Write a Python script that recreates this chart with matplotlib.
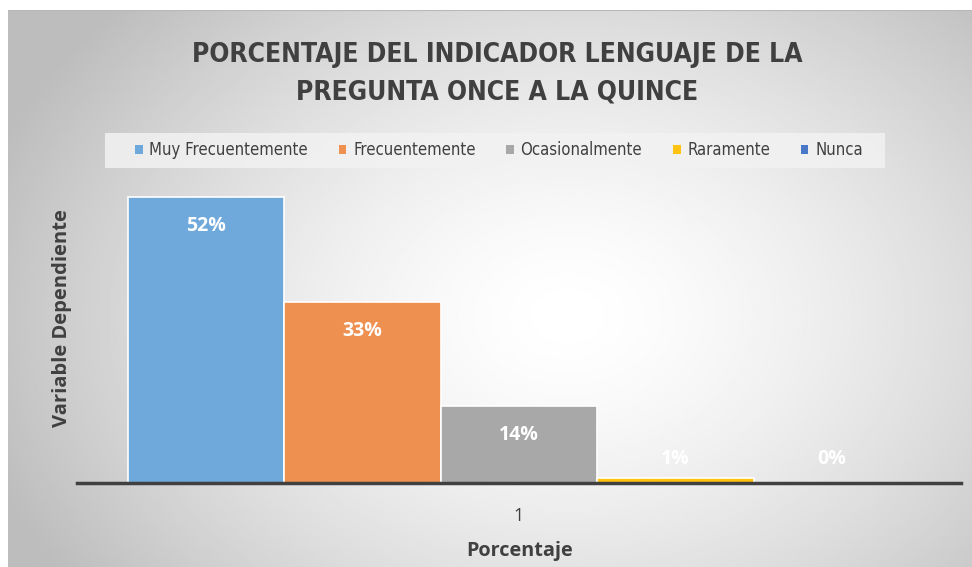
import numpy as np
import matplotlib.pyplot as plt
from matplotlib.patches import Patch, Rectangle

categorias = ['Muy Frecuentemente', 'Frecuentemente', 'Ocasionalmente', 'Raramente', 'Nunca']
valores = [52, 33, 14, 1, 0]
etiquetas = ['52%', '33%', '14%', '1%', '0%']
colores = ['#6FA8DA', '#EE9050', '#A8A8A8', '#FFC20E', '#4A78C8']

W, H = 972, 567
fig = plt.figure(figsize=(W / 100, H / 100), dpi=100)
fig.patch.set_facecolor('white')

# fondo con degradado radial
bg = fig.add_axes([8 / W, 0, 1 - 8 / W, 1 - 10 / H])
bg.set_axis_off()
yy, xx = np.mgrid[0:1:300j, 0:1:500j]
r = np.sqrt(((xx - 0.58) / 0.7) ** 2 + ((yy - 0.55) / 0.9) ** 2)
g = np.clip(1.0 - 0.3 * r ** 1.5, 0.74, 1.0)
bg.imshow(g, cmap='gray', vmin=0, vmax=1, aspect='auto', extent=[0, 1, 0, 1])
bg.axhline(1, color='#B8B8B8', lw=1.5)

cond = dict(family='DejaVu Sans', stretch='condensed')

ax = fig.add_axes([77 / W, 84 / H, 884 / W, 302.5 / H])
ax.patch.set_alpha(0)
x = np.arange(len(valores))
ax.bar(x, valores, width=1.0, color=colores, edgecolor='white', linewidth=1.2)
ax.set_xlim(-0.826, 4.826)
ax.set_ylim(0, 55)
for xi, v, t in zip(x, valores, etiquetas):
    yl = v - 5.3 if v > 6 else 4.4
    ax.text(xi, yl, t, ha='center', va='center', color='white',
            fontsize=14, fontweight='bold', family='Open Sans')

for s in ['top', 'right', 'left']:
    ax.spines[s].set_visible(False)
ax.spines['bottom'].set_color('#404040')
ax.spines['bottom'].set_linewidth(2.5)
ax.set_yticks([])
ax.set_xticks([2])
ax.set_xticklabels(['1'], fontsize=13, color='#404040', family='Open Sans')
ax.tick_params(axis='x', length=0, pad=17)

fig.text(520 / W, 1 - 551 / H, 'Porcentaje', ha='center', va='center',
         fontsize=14.3, fontweight='bold', color='#404040', family='Open Sans')
fig.text(62 / W, 1 - 318 / H, 'Variable Dependiente', ha='center', va='center',
         rotation=90, fontsize=14.5, fontweight='bold', color='#404040', family='Open Sans')

fig.text(497 / W, 1 - 74 / H, 'PORCENTAJE DEL INDICADOR LENGUAJE DE LA\nPREGUNTA ONCE A LA QUINCE',
         ha='center', va='center', fontsize=19, fontweight='bold', color='#404040',
         linespacing=1.55, **cond)

# caja de la leyenda
fig.patches.append(Rectangle((105 / W, 1 - 168 / H), 780 / W, 35 / H,
                             transform=fig.transFigure, facecolor='#F2F2F2',
                             alpha=0.85, edgecolor='none', zorder=1))
handles = [Patch(facecolor=c, edgecolor='none') for c in colores]
leg = fig.legend(handles, categorias, loc='center', bbox_to_anchor=(499 / W, 1 - 150 / H),
                 ncol=5, frameon=False, handlelength=0.45, handleheight=0.45,
                 columnspacing=1.85, handletextpad=0.4, borderpad=0.3,
                 prop={'family': 'DejaVu Sans', 'stretch': 'condensed', 'size': 12})
for t in leg.get_texts():
    t.set_color('#404040')

fig.savefig('out.png', dpi=100)
